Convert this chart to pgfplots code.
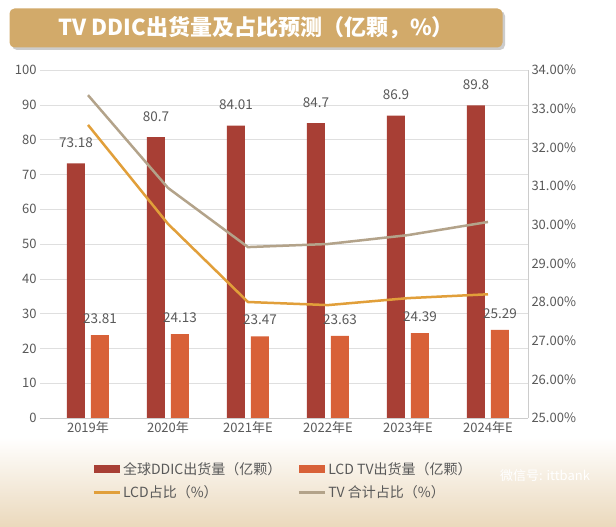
\documentclass[border=0pt]{standalone}
\usepackage{pgfplots}
\pgfplotsset{compat=1.18}
\usepackage{fontspec}
\setmainfont{Noto Sans CJK SC}
\definecolor{darkred}{HTML}{A83F35}
\definecolor{orng}{HTML}{D86138}
\definecolor{lcd}{HTML}{E19F3A}
\definecolor{tvc}{HTML}{B3A38A}
\definecolor{tan}{HTML}{D2AA6A}
\definecolor{txt}{HTML}{595959}
\begin{document}
\begin{tikzpicture}
\fill[white] (0pt,0pt) rectangle (616pt,527pt);
\shade[top color=white,bottom color=tan!45] (0pt,0pt) rectangle (616pt,90pt);
\fill[gray!40,rounded corners=5pt] (12pt,477pt) rectangle (505pt,516pt);
\node[fill=tan,rounded corners=5pt,minimum width=493pt,minimum height=39pt,inner sep=0pt,text=white,font=\fontsize{22}{26}\selectfont\bfseries] at (256pt,499pt) {TV DDIC出货量及占比预测（亿颗，\%）};
\begin{axis}[at={(40pt,109pt)},anchor=south west,scale only axis,width=488pt,height=348pt,
 xmin=-0.6,xmax=5.5,ymin=0,ymax=100,ytick={0,10,...,100},
 xtick={0,...,5},xticklabels={2019年,2020年,2021年E,2022年E,2023年E,2024年E},
 axis y line*=left,axis x line*=bottom,ymajorgrids,grid style={gray!25},
 axis line style={gray!40},y axis line style={draw=none},major tick length=0pt,
 ticklabel style={font=\fontsize{13}{15}\selectfont,text=txt},
 /pgf/number format/assume math mode=true,
 ybar,bar width=18pt,
 nodes near coords,nodes near coords style={font=\fontsize{13.5}{15}\selectfont,text=txt},
 point meta=explicit symbolic]
\addplot[fill=darkred,draw=none,bar shift=-12pt,nodes near coords style={yshift=12pt}] coordinates {(0,73.18)[73.18] (1,80.7)[80.7] (2,84.01)[84.01] (3,84.7)[84.7] (4,86.9)[86.9] (5,89.8)[89.8]};
\addplot[fill=orng,draw=none,bar shift=12pt,nodes near coords style={yshift=8pt}] coordinates {(0,23.81)[23.81] (1,24.13)[24.13] (2,23.47)[23.47] (3,23.63)[23.63] (4,24.39)[24.39] (5,25.29)[25.29]};
\end{axis}
\begin{axis}[at={(40pt,109pt)},anchor=south west,scale only axis,width=488pt,height=348pt,
 xmin=-0.6,xmax=5.5,ymin=25,ymax=34,ytick={25,26,...,34},
 axis y line*=right,axis x line=none,y axis line style={gray!40},major tick length=0pt,
 yticklabel={\pgfmathprintnumber[fixed,fixed zerofill,precision=2]{\tick}\%},
 ticklabel style={font=\fontsize{13}{15}\selectfont,text=txt},
 /pgf/number format/assume math mode=true,
 legend style={at={(0.1,-0.115)},anchor=north west,draw=none,fill=none,font=\fontsize{14}{16}\selectfont,text=txt,legend columns=2,row sep=6pt,/tikz/every even column/.append style={column sep=14pt}},
 legend image code/.code={\draw[#1,line width=3pt] (0pt,0pt) -- (26pt,0pt);},
 legend cell align=left]
\addlegendimage{area legend,fill=darkred,draw=none,legend image code/.code={\fill[darkred] (0pt,-4pt) rectangle (26pt,4pt);}}\addlegendentry{全球DDIC出货量（亿颗）\hspace{10pt}}
\addlegendimage{fill=orng,draw=none,legend image code/.code={\fill[orng] (0pt,-4pt) rectangle (26pt,4pt);}}\addlegendentry{LCD TV出货量（亿颗）}
\addplot[lcd,line width=2.5pt,mark=none] coordinates {(0,32.58) (1,30.02) (2,28.0) (3,27.92) (4,28.1) (5,28.2)};
\addlegendentry{LCD占比（\%）}
\addplot[tvc,line width=2.5pt,mark=none] coordinates {(0,33.35) (1,30.95) (2,29.42) (3,29.5) (4,29.73) (5,30.07)};
\addlegendentry{TV 合计占比（\%）}
\end{axis}
\node[text=white,font=\fontsize{13}{15}\selectfont] at (545pt,51pt) {微信号: ittbank};
\end{tikzpicture}
\end{document}
